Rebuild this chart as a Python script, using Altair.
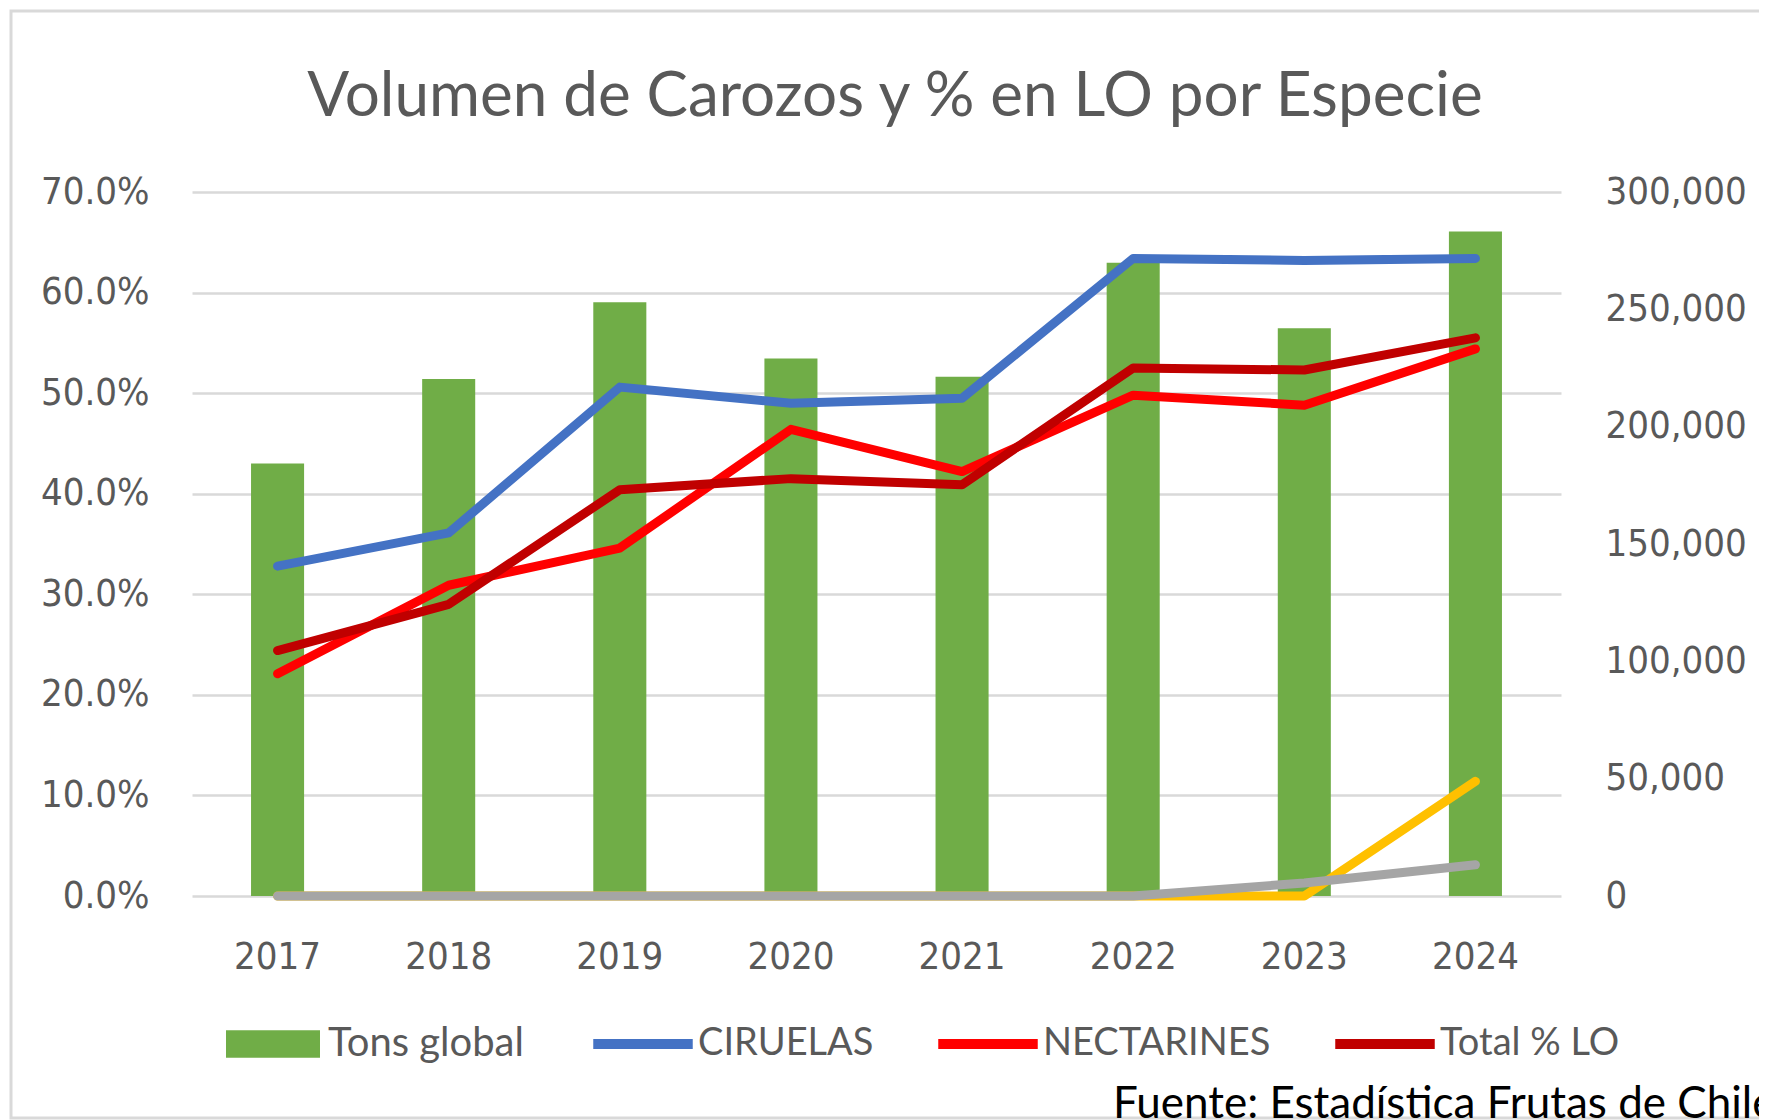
import altair as alt
import pandas as pd

# ---------------- data ----------------
years = ["2017", "2018", "2019", "2020", "2021", "2022", "2023", "2024"]
tons_global = [184300, 220300, 253000, 229000, 221300, 269800, 241900, 283200]
ciruelas = [32.8, 36.1, 50.6, 49.0, 49.5, 63.4, 63.2, 63.4]
nectarines = [22.1, 30.9, 34.6, 46.4, 42.2, 49.8, 48.8, 54.4]
total_lo = [24.4, 29.0, 40.4, 41.5, 40.9, 52.5, 52.3, 55.5]
serie_5 = [0, 0, 0, 0, 0, 0, 0, 11.4]
serie_6 = [0, 0, 0, 0, 0, 0, 1.3, 3.1]

bar_name = "Tons global"
line_names = ["CIRUELAS", "NECTARINES", "Total % LO", "Serie 5", "Serie 6"]
legend_names = ["CIRUELAS", "NECTARINES", "Total % LO"]
line_series = [ciruelas, nectarines, total_lo, serie_5, serie_6]

pct_ticks = [0, 10, 20, 30, 40, 50, 60, 70]
ton_ticks = [0, 50000, 100000, 150000, 200000, 250000, 300000]

title_text = "Volumen de Carozos y % en LO por Especie"
source_text = "Fuente: Estadística Frutas de Chile"

# ---------------- styles ----------------
bar_color = "#70AD47"
line_colors = ["#4472C4", "#FF0000", "#C00000", "#FFC000", "#A5A5A5"]
TXT = "#595959"
GRID = "#D9D9D9"
AX_FONT = "Liberation Sans Narrow, DejaVu Sans Condensed, Liberation Sans"
AX_SIZE = 38
TXT_FONT = "Lato"

bar_df = pd.DataFrame({"anio": years, "tons": tons_global, "serie": [bar_name] * len(years)})
rows = []
for name, vals in zip(line_names, line_series):
    for y, v in zip(years, vals):
        rows.append({"anio": y, "pct": v, "serie": name})
line_df = pd.DataFrame(rows)

x_enc = alt.X(
    "anio:N",
    sort=years,
    scale=alt.Scale(paddingInner=0.69, paddingOuter=0.345),
    axis=alt.Axis(
        title=None, labelAngle=0, domain=False, ticks=False, labelPadding=42,
        labelFont=AX_FONT, labelFontSize=AX_SIZE, labelColor=TXT,
    ),
)

bars = alt.Chart(bar_df).mark_bar(color=bar_color).encode(
    x=x_enc,
    y=alt.Y(
        "tons:Q",
        scale=alt.Scale(domain=[0, 300000], nice=False),
        axis=alt.Axis(
            orient="right", values=ton_ticks, format=",.0f", grid=False, domain=False,
            ticks=False, labelPadding=44, labelFont=AX_FONT, labelFontSize=AX_SIZE,
            labelColor=TXT, title=None,
        ),
    ),
    color=alt.Color(
        "serie:N",
        scale=alt.Scale(domain=[bar_name], range=[bar_color]),
        legend=alt.Legend(
            orient="none", legendX=34, legendY=805, title=None, padding=0,
            symbolType="M-1,-0.29H1V0.29H-1Z", symbolSize=8836, symbolStrokeWidth=0,
            labelFont=TXT_FONT, labelFontSize=40, labelColor=TXT, labelOffset=8,
            labelLimit=0,
        ),
    ),
)

lines = alt.Chart(line_df).mark_line(strokeWidth=9, strokeCap="round", strokeJoin="round").encode(
    x=x_enc,
    y=alt.Y(
        "pct:Q",
        scale=alt.Scale(domain=[0, 70], nice=False),
        axis=alt.Axis(
            orient="left", values=pct_ticks,
            labelExpr="format(datum.value, '.1f') + '%'",
            grid=True, gridColor=GRID, gridWidth=2.5, domain=False, ticks=False,
            labelPadding=43, labelFont=AX_FONT, labelFontSize=AX_SIZE, labelColor=TXT,
            title=None,
        ),
    ),
    color=alt.Color(
        "serie:N",
        sort=line_names,
        scale=alt.Scale(domain=line_names, range=line_colors),
        legend=alt.Legend(
            values=legend_names, orient="none", legendX=396, legendY=797,
            direction="horizontal", title=None, padding=0, columnPadding=44,
            symbolType="stroke", symbolSize=9900, symbolStrokeWidth=10,
            labelFont=TXT_FONT, labelFontSize=38, labelColor=TXT, labelOffset=0,
            labelLimit=0,
        ),
    ),
)

frame = alt.Chart(pd.DataFrame({"k": [0]})).mark_rect(
    fillOpacity=0, stroke=GRID, strokeWidth=3
).encode(x=alt.value(-181), x2=alt.value(1620), y=alt.value(-181), y2=alt.value(926))

title = alt.Chart(pd.DataFrame({"t": [title_text]})).mark_text(
    align="center", baseline="alphabetic", font=TXT_FONT, fontSize=62, color=TXT
).encode(text="t:N", x=alt.value(703), y=alt.value(-76))

source = alt.Chart(pd.DataFrame({"t": [source_text]})).mark_text(
    align="left", baseline="alphabetic", font=TXT_FONT, fontSize=44, color="#000000"
).encode(text="t:N", x=alt.value(921), y=alt.value(926))

chart = (
    alt.layer(frame, bars, lines, title, source)
    .resolve_scale(y="independent", color="independent")
    .properties(
        width=1369,
        height=704,
        autosize=alt.AutoSizeParams(type="none"),
        padding={"left": 184, "top": 184, "right": 198, "bottom": 224},
        background="white",
    )
    .configure_view(strokeWidth=0)
)

chart.save("out.html", embed_options={"renderer": "svg", "actions": False})
